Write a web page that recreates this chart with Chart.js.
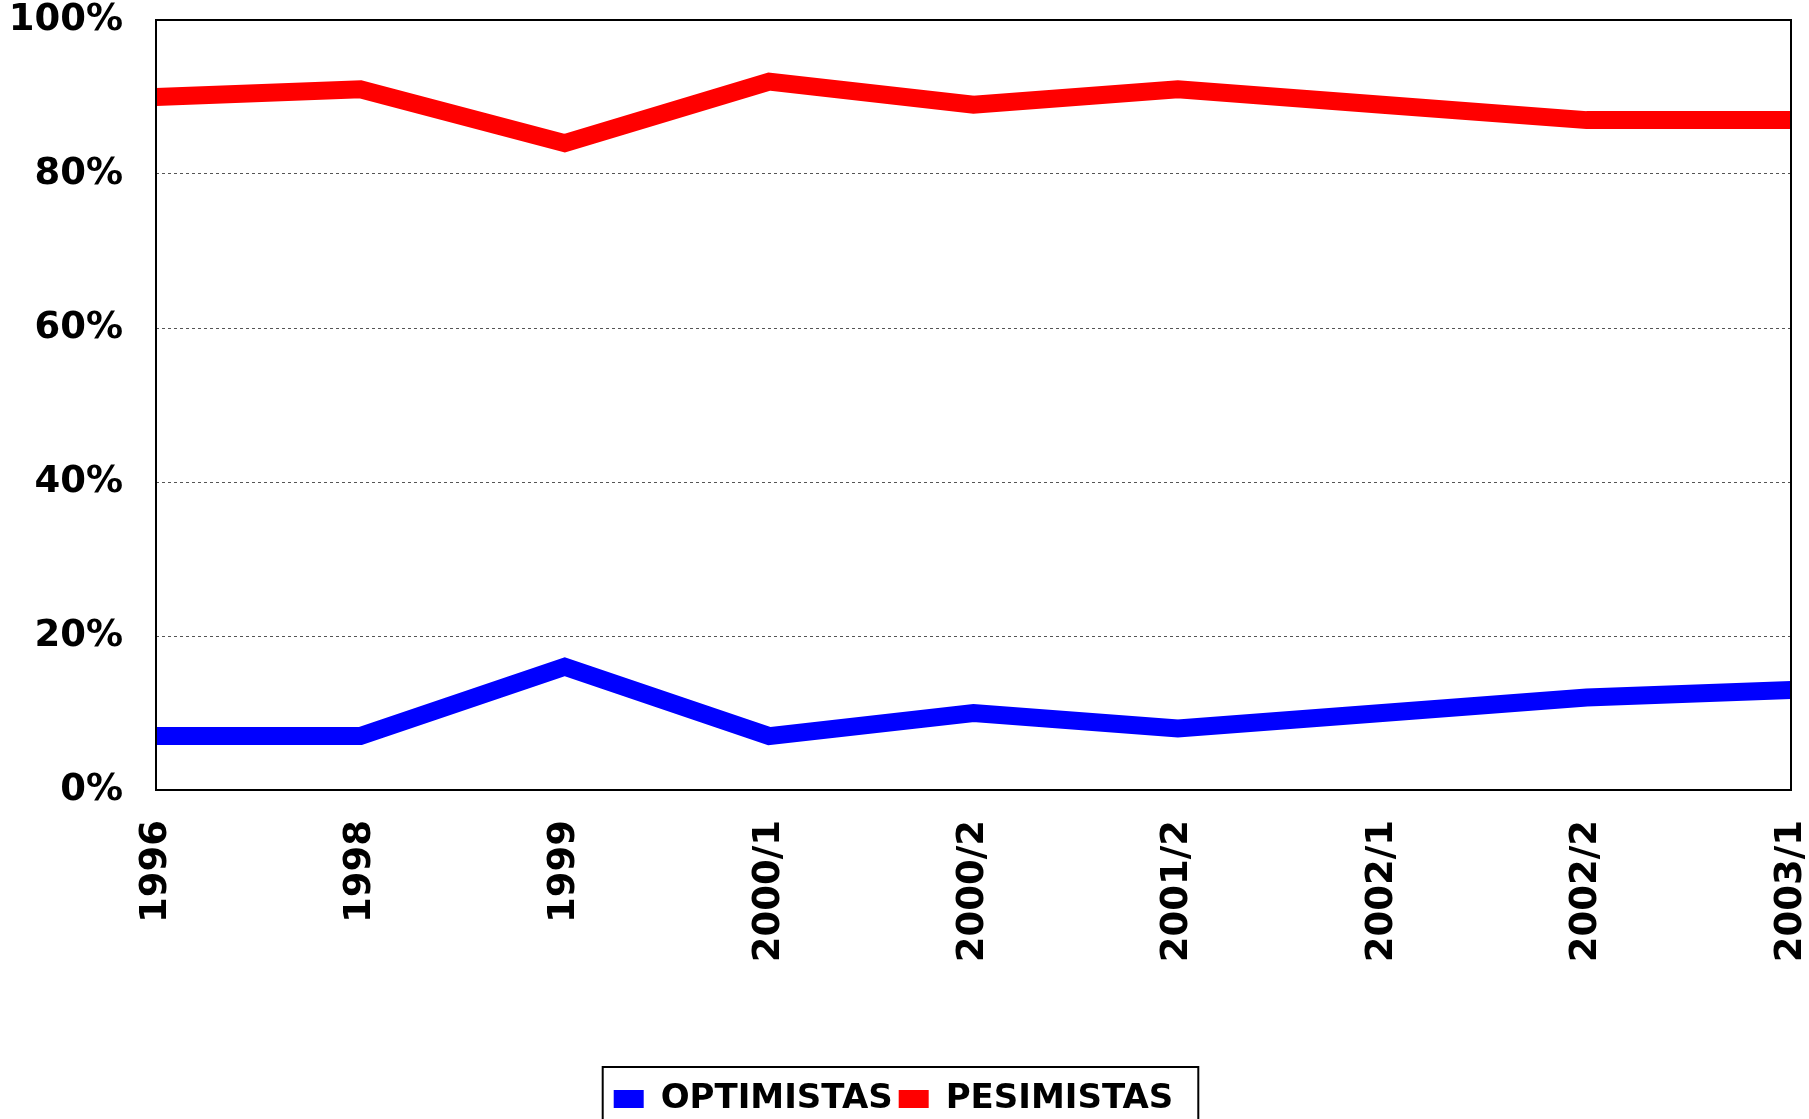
<!DOCTYPE html>
<html>
<head>
<meta charset="utf-8">
<script src="https://cdn.jsdelivr.net/npm/chart.js@4/dist/chart.umd.min.js"></script>
<style>
  html, body { margin: 0; padding: 0; background: #fff; overflow: hidden; }
  canvas { display: block; }
</style>
</head>
<body>
<canvas id="chart" width="1809" height="1126"></canvas>
<script>
// Data
const periods = ['1996', '1998', '1999', '2000/1', '2000/2', '2001/2', '2002/1', '2002/2', '2003/1'];
const optimistas = [7, 7, 16, 7, 10, 8, 10, 12, 13];
const pesimistas = [90, 91, 84, 92, 89, 91, 89, 87, 87];
const yTicks = [0, 20, 40, 60, 80, 100];

const legendShift = -15;

// Black frame round the plot area
const plotFrame = {
    id: 'plotFrame',
    afterDatasetsDraw(chart) {
        const { ctx, chartArea: a } = chart;
        ctx.save();
        ctx.strokeStyle = '#000';
        ctx.lineWidth = 2;
        ctx.strokeRect(a.left, a.top, a.right - a.left, a.bottom - a.top);
        ctx.restore();
    }
};

// Nudge the legend a bit left, then box round it
const legendFrame = {
    id: 'legendFrame',
    afterLayout(chart) {
        chart.legend.left += legendShift;
        chart.legend.right += legendShift;
    },
    afterDraw(chart) {
        const boxes = chart.legend.legendHitBoxes;
        if (!boxes || !boxes.length) return;
        const left = Math.min(...boxes.map(b => b.left)) - 11;
        const right = Math.max(...boxes.map(b => b.left + b.width)) + 25;
        const top = Math.min(...boxes.map(b => b.top)) - 15;
        const ctx = chart.ctx;
        ctx.save();
        ctx.strokeStyle = '#000';
        ctx.lineWidth = 2;
        ctx.strokeRect(left, top, right - left, 200);
        ctx.restore();
    }
};

const font = { family: '"DejaVu Sans", Verdana, sans-serif', weight: 'bold', size: 37 };

new Chart(document.getElementById('chart'), {
    type: 'line',
    data: {
        labels: periods,
        datasets: [
            { label: 'OPTIMISTAS', data: optimistas, borderColor: '#0000ff', backgroundColor: '#0000ff', borderWidth: 18, pointRadius: 0, tension: 0 },
            { label: 'PESIMISTAS', data: pesimistas, borderColor: '#ff0000', backgroundColor: '#ff0000', borderWidth: 18, pointRadius: 0, tension: 0 }
        ]
    },
    options: {
        responsive: false,
        animation: false,
        devicePixelRatio: 1,
        layout: { padding: { left: 8, top: 0, right: 0, bottom: 0 } },
        plugins: {
            tooltip: { enabled: false },
            legend: {
                position: 'bottom',
                labels: {
                    color: '#000',
                    font: { family: '"DejaVu Sans", Verdana, sans-serif', weight: 'bold', size: 34 },
                    boxWidth: 30,
                    boxHeight: 18,
                    padding: 6,
                    generateLabels: chart => Chart.defaults.plugins.legend.labels.generateLabels(chart)
                        .map(item => Object.assign(item, { lineWidth: 0 }))
                }
            }
        },
        scales: {
            x: {
                grid: { display: false },
                border: { display: false },
                ticks: { color: '#000', font: font, maxRotation: 90, minRotation: 90, padding: 22, autoSkip: false },
                afterFit: scale => {
                    scale.height = 286;
                    scale.paddingRight = 18;
                    scale.paddingLeft = 0;
                }
            },
            y: {
                min: 0,
                max: 100,
                afterBuildTicks: scale => { scale.ticks = yTicks.map(v => ({ value: v })); },
                afterFit: scale => {
                    scale.width = 148;
                    scale.paddingTop = 20;
                    scale.paddingBottom = 0;
                },
                grid: { color: '#555', lineWidth: 1, drawTicks: false },
                border: { display: false, dash: [3, 3] },
                ticks: { color: '#000', font: font, padding: 33, callback: v => v + '%' }
            }
        }
    },
    plugins: [plotFrame, legendFrame]
});
</script>
</body>
</html>
